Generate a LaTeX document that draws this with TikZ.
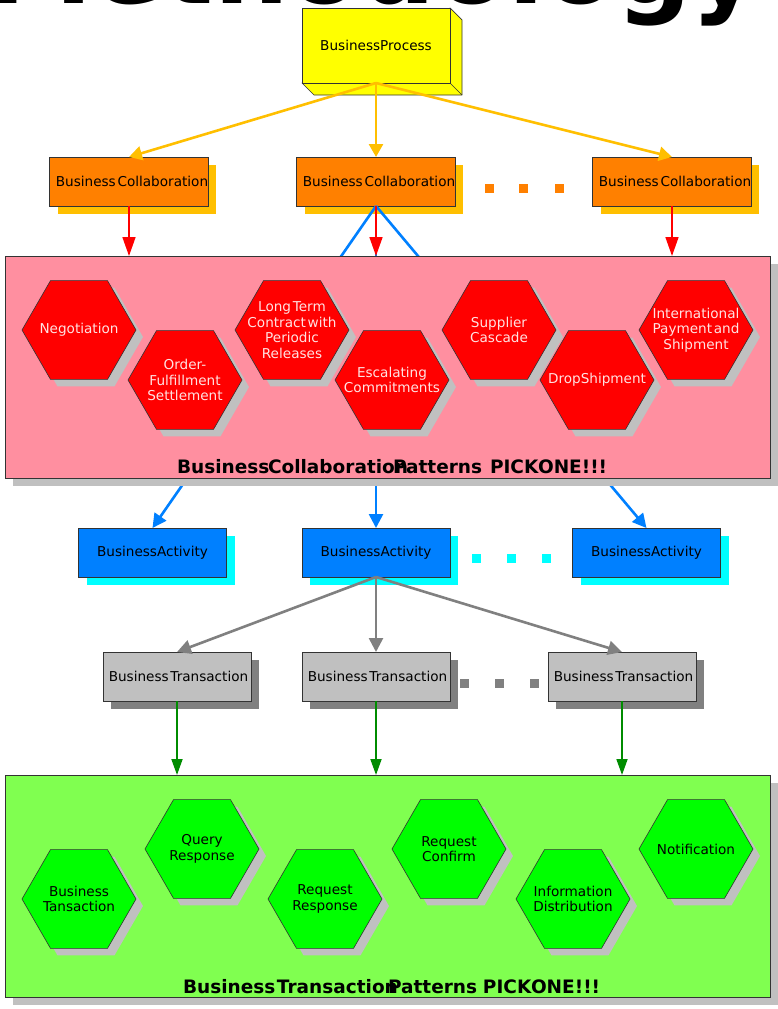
\documentclass[tikz,border=0pt]{standalone}
\usepackage{fontspec}
\setmainfont{DejaVu Sans}[WordSpace=0.4]
\usetikzlibrary{arrows.meta,shapes.geometric,shadows}
\definecolor{yel}{HTML}{FFFF00}
\definecolor{orangeF}{HTML}{FF8000}
\definecolor{amber}{HTML}{FFBF00}
\definecolor{redF}{HTML}{FF0000}
\definecolor{blueF}{HTML}{0080FF}
\definecolor{cyanF}{HTML}{00FFFF}
\definecolor{lgray}{HTML}{C0C0C0}
\definecolor{dgray}{HTML}{808080}
\definecolor{greenA}{HTML}{008C00}
\definecolor{greenH}{HTML}{00FF00}
\definecolor{greenC}{HTML}{80FF50}
\definecolor{pinkC}{HTML}{FF8FA0}
\definecolor{pinkT}{HTML}{FFE2E2}
\definecolor{edge}{HTML}{333333}
\tikzset{
  every node/.style={inner sep=0pt, outer sep=0pt},
  lbl/.style={font=\fontsize{13.6}{15.5}\selectfont},
  box/.style={lbl, draw=edge, line width=0.7pt, minimum width=148pt, minimum height=49pt, text=black},
  bcbox/.style={box, fill=orangeF, drop shadow={shadow xshift=8pt, shadow yshift=-8pt, fill=amber, opacity=1}},
  babox/.style={box, fill=blueF, drop shadow={shadow xshift=8pt, shadow yshift=-8pt, fill=cyanF, opacity=1}},
  btbox/.style={box, fill=lgray, drop shadow={shadow xshift=8pt, shadow yshift=-8pt, fill=dgray, opacity=1}},
  container/.style={draw=edge, line width=0.8pt, minimum width=765pt, minimum height=222pt, drop shadow={shadow xshift=8pt, shadow yshift=-8pt, fill=lgray, opacity=1}},
  hexbase/.style={regular polygon, regular polygon sides=6, minimum size=114pt, draw=edge, line width=0.6pt, drop shadow={shadow xshift=7pt, shadow yshift=-7pt, fill=lgray, opacity=1}},
  redhex/.style={hexbase, fill=redF},
  greenhex/.style={hexbase, fill=greenH},
  hextxt/.style={lbl, align=center},
  biglbl/.style={font=\fontsize{18.5}{20}\bfseries\selectfont, anchor=base west, text=black},
  dotsq/.style={minimum width=9pt, minimum height=9pt},
  oarr/.style={amber, line width=2.6pt, -{Triangle[length=13pt,width=14pt]}},
  rarr/.style={redF, line width=1.6pt, -{Triangle[length=19pt,width=13pt]}},
  barr/.style={blueF, line width=2.6pt, -{Triangle[length=14pt,width=14pt]}},
  garr/.style={dgray, line width=2.6pt, -{Triangle[length=14pt,width=14pt]}},
  grarr/.style={greenA, line width=1.8pt, -{Triangle[length=16pt,width=11pt]}},
}
\begin{document}
\begin{tikzpicture}[x=1pt,y=-1pt]
\useasboundingbox (0,0) rectangle (778,1009);
\clip (0,0) rectangle (778,1009);
\fill[white] (0,0) rectangle (778,1009);

% title
\node[anchor=base east, font=\fontsize{105}{105}\bfseries\selectfont] (title) at (760,3) {Methodology};

% Business process 3D box
\filldraw[fill=yel, draw=edge, line width=0.7pt, line join=round]
  (450,8) -- (462,20) -- (462,95) -- (314,95) -- (302,83) -- (450,83) -- cycle;
\draw[edge, line width=0.7pt] (450,83) -- (462,95);
\node[box, fill=yel, minimum height=75pt] (bp) at (376,45.5) {BusinessProcess};

% business activities
\node[babox] (ba1) at (152.5,552.5) {BusinessActivity};
\node[babox] (ba2) at (376,552.5) {BusinessActivity};
\node[babox] (ba3) at (646.5,552.5) {BusinessActivity};

% business collaborations
\node[bcbox] (bc1) at (129,181.5) {\hspace{6pt}Business Collaboration};
\node[bcbox] (bc2) at (376,181.5) {\hspace{6pt}Business Collaboration};
\node[bcbox] (bc3) at (672,181.5) {\hspace{6pt}Business Collaboration};

% blue connectors (behind the collaboration container)
\draw[barr] (bc2.south) -- (ba1.north);
\draw[barr] (bc2.south) -- (ba2.north);
\draw[barr] (bc2.south) -- (ba3.north);

% collaboration container
\node[container, fill=pinkC] (collab) at (387.5,367) {};

\draw[oarr] (bp.south) -- (bc1.north);
\draw[oarr] (bp.south) -- (bc2.north);
\draw[oarr] (bp.south) -- (bc3.north);

\draw[rarr] (bc1.south) -- (bc1.south |- collab.north);
\draw[rarr] (bc2.south) -- (bc2.south |- collab.north);
\draw[rarr] (bc3.south) -- (bc3.south |- collab.north);

\node[dotsq, fill=orangeF] (od1) at (489.5,188) {};
\node[dotsq, fill=orangeF] (od2) at (523.5,188) {};
\node[dotsq, fill=orangeF] (od3) at (559,188) {};

% red hexagons
\node[redhex] (h1) at (79,330) {};
\node[hextxt, text=pinkT] (h1t) at (h1) {Negotiation};
\node[redhex] (h2) at (185,380) {};
\node[hextxt, text=pinkT] (h2t) at (h2) {Order-\\Fulfillment\\Settlement};
\node[redhex] (h3) at (292,330) {};
\node[hextxt, text=pinkT] (h3t) at (h3) {Long Term\\Contract with\\Periodic\\Releases};
\node[redhex] (h4) at (392,380) {};
\node[hextxt, text=pinkT] (h4t) at (h4) {Escalating\\Commitments};
\node[redhex] (h5) at (499,330) {};
\node[hextxt, text=pinkT] (h5t) at (h5) {Supplier\\Cascade};
\node[redhex] (h6) at (597,380) {};
\node[hextxt, text=pinkT] (h6t) at (h6) {DropShipment};
\node[redhex] (h7) at (696,330) {};
\node[hextxt, text=pinkT] (h7t) at (h7) {International\\Payment and\\Shipment};

\node[biglbl] (collabl) at (177,473) {\makebox[91pt][l]{Business}\makebox[125pt][l]{Collaboration}\makebox[97pt][l]{Patterns}\makebox[48pt][l]{PICK}ONE!!!};

\node[dotsq, fill=cyanF] (cd1) at (476.5,558.5) {};
\node[dotsq, fill=cyanF] (cd2) at (511.5,558.5) {};
\node[dotsq, fill=cyanF] (cd3) at (546,558.5) {};

% business transactions
\node[btbox] (bt1) at (177,676.5) {\hspace{3pt}Business Transaction};
\node[btbox] (bt2) at (376,676.5) {\hspace{3pt}Business Transaction};
\node[btbox] (bt3) at (622,676.5) {\hspace{3pt}Business Transaction};

\draw[garr] (ba2.south) -- (bt1.north);
\draw[garr] (ba2.south) -- (bt2.north);
\draw[garr] (ba2.south) -- (bt3.north);

\node[dotsq, fill=dgray] (gd1) at (464.8,683.5) {};
\node[dotsq, fill=dgray] (gd2) at (499.5,683.5) {};
\node[dotsq, fill=dgray] (gd3) at (534.2,683.5) {};

% transaction container
\node[container, fill=greenC] (trans) at (387.5,886) {};

\draw[grarr] (bt1.south) -- (bt1.south |- trans.north);
\draw[grarr] (bt2.south) -- (bt2.south |- trans.north);
\draw[grarr] (bt3.south) -- (bt3.south |- trans.north);

% green hexagons
\node[greenhex] (g1) at (79,899) {};
\node[hextxt] (g1t) at (g1) {Business\\Tansaction};
\node[greenhex] (g2) at (202,849) {};
\node[hextxt] (g2t) at (g2) {Query\\Response};
\node[greenhex] (g3) at (325,899) {};
\node[hextxt] (g3t) at (g3) {Request\\Response};
\node[greenhex] (g4) at (449,849) {};
\node[hextxt] (g4t) at (g4) {Request\\Confirm};
\node[greenhex] (g5) at (573,899) {};
\node[hextxt] (g5t) at (g5) {Information\\Distribution};
\node[greenhex] (g6) at (696,849) {};
\node[hextxt] (g6t) at (g6) {Notification};

\node[biglbl] (transl) at (183,993) {\makebox[94pt][l]{Business}\makebox[111pt][l]{Transaction}\makebox[95pt][l]{Patterns}\makebox[48pt][l]{PICK}ONE!!!};
\end{tikzpicture}
\end{document}
